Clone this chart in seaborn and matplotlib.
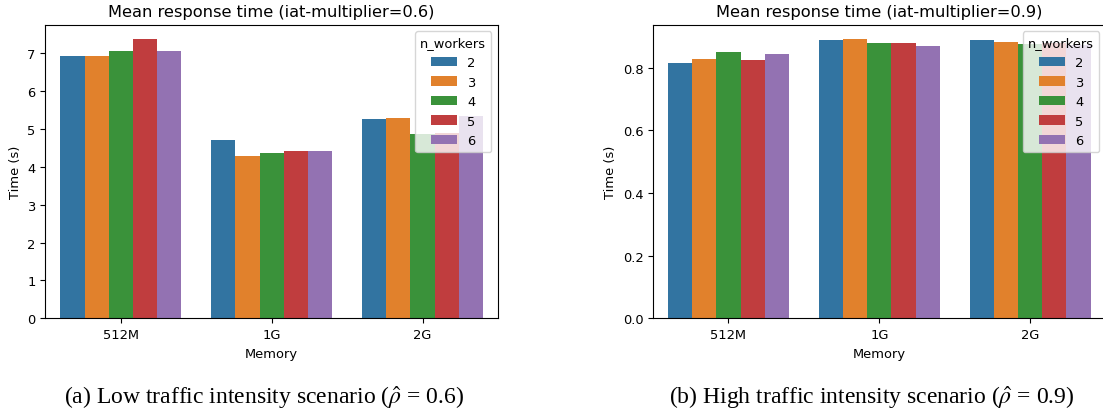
import matplotlib
matplotlib.use("Agg")
import matplotlib.pyplot as plt
import seaborn as sns
import pandas as pd

# Mean response times (seconds) per memory size and number of workers
memory = ["512M", "1G", "2G"]
n_workers = [2, 3, 4, 5, 6]

# iat-multiplier = 0.6 (low traffic intensity)
low_512m = [6.94, 6.94, 7.07, 7.39, 7.07]
low_1g = [4.72, 4.30, 4.37, 4.43, 4.41]
low_2g = [5.26, 5.30, 4.87, 4.90, 5.34]

# iat-multiplier = 0.9 (high traffic intensity)
high_512m = [0.816, 0.829, 0.851, 0.824, 0.845]
high_1g = [0.888, 0.893, 0.880, 0.880, 0.871]
high_2g = [0.888, 0.881, 0.876, 0.878, 0.874]

titles = ["Mean response time (iat-multiplier=0.6)",
          "Mean response time (iat-multiplier=0.9)"]
captions = [r"(a) Low traffic intensity scenario ($\hat{\rho}$ = 0.6)",
            r"(b) High traffic intensity scenario ($\hat{\rho}$ = 0.9)"]


def to_frame(groups):
    rows = []
    for mem, vals in zip(memory, groups):
        for w, v in zip(n_workers, vals):
            rows.append({"Memory": mem, "n_workers": w, "Time (s)": v})
    return pd.DataFrame(rows)


frames = [to_frame([low_512m, low_1g, low_2g]),
          to_frame([high_512m, high_1g, high_2g])]

plt.rcParams["mathtext.fontset"] = "stix"

fig = plt.figure(figsize=(11.03, 4.14), dpi=100)
ax_w = 452.7 / 1103
ax_h = 293.6 / 414
ax_b = (414 - 319.3) / 414
lefts = [45.3 / 1103, 653.0 / 1103]

fs = 9.4
for i, (df, title, left) in enumerate(zip(frames, titles, lefts)):
    ax = fig.add_axes([left, ax_b, ax_w, ax_h])
    sns.barplot(data=df, x="Memory", y="Time (s)", hue="n_workers",
                palette="tab10", saturation=0.75, ax=ax, errorbar=None)
    ax.set_title(title, fontsize=11.7)
    ax.set_xlabel("Memory", fontsize=fs)
    ax.set_ylabel("Time (s)", fontsize=fs)
    ax.tick_params(labelsize=fs)
    ax.legend(title="n_workers", loc="upper right", fontsize=fs,
              title_fontsize=fs)

for cap, cx in zip(captions, [264 / 1103, 872 / 1103]):
    fig.text(cx, (414 - 398) / 414, cap, ha="center", va="center",
             fontsize=17, family="Liberation Serif")

fig.savefig("out.png", dpi=100)
